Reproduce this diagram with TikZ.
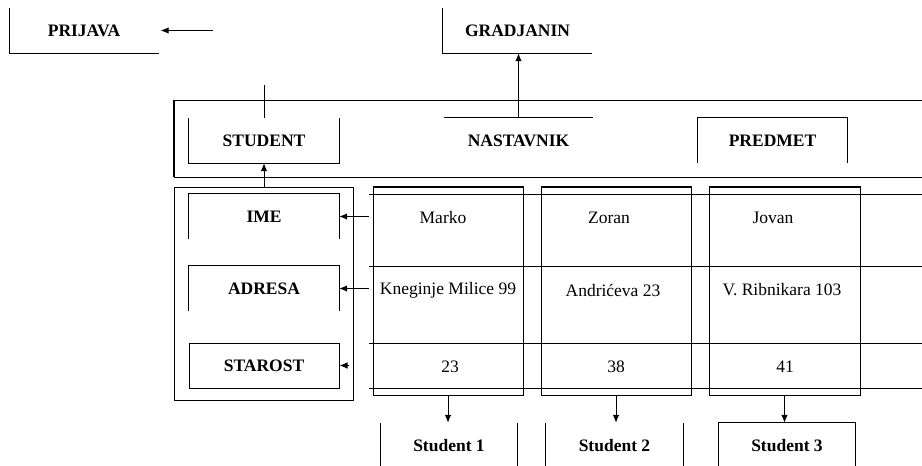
\documentclass[tikz,border=0pt]{standalone}
\usepackage{fontspec}
\setmainfont{Liberation Serif}
\usepackage{tikz}
\usetikzlibrary{calc,positioning,arrows.meta}
\tikzset{
  klasa/.style={rectangle, minimum width=149pt, minimum height=45pt, inner sep=0pt, font=\fontsize{17.5}{20}\selectfont\bfseries},
  polje/.style={rectangle, minimum width=150pt, minimum height=45pt, inner sep=0pt, font=\fontsize{17.5}{20}\selectfont\bfseries},
  stud/.style={rectangle, minimum width=136pt, minimum height=46pt, inner sep=0pt, font=\fontsize{17.5}{20}\selectfont\bfseries},
  kolona/.style={rectangle, draw=black, line width=1pt, minimum width=150pt, minimum height=208pt, inner sep=0pt},
  vrednost/.style={inner sep=0pt, font=\fontsize{17.5}{20}\selectfont},
  linija/.style={draw=black, line width=1pt},
  strel/.style={draw=black, line width=1pt, -{Latex[length=8pt,width=6.5pt]}},
}
\begin{document}
\begin{tikzpicture}[x=1pt,y=-1pt]
  \useasboundingbox (0,0) rectangle (922,466);
  % gornji red
  \node[klasa] (prijava) at (84,30.5) {PRIJAVA};
  \node[klasa] (gradjanin) at (517.5,30.5) {GRADJANIN};
  \draw[linija] (prijava.north west) -- (prijava.south west) -- (prijava.south east);
  \draw[linija] (gradjanin.north west) -- (gradjanin.south west) -- (gradjanin.south east);
  \coordinate (p0) at (213,30.5);
  \draw[strel, shorten >=2pt] (p0) -- (prijava.east);
  % klase
  \draw[linija] (922,100) -- (174,100) -- (174,177) -- (922,177);
  \draw[line width=2pt] (174,100) -- (174,177);
  \node[polje] (student) at (264,140.5) {STUDENT};
  \node[klasa] (nastavnik) at (518.5,140.5) {NASTAVNIK};
  \node[klasa] (predmet) at (772.5,140.5) {PREDMET};
  \draw[linija] (student.north west) -- (student.south west) -- (student.south east) -- (student.north east);
  \draw[linija] (nastavnik.north west) -- (nastavnik.north east);
  \draw[linija] (predmet.south west) -- (predmet.north west) -- (predmet.north east) -- (predmet.south east);
  \coordinate (vrh) at (264,85);
  \draw[linija] (vrh) -- (student.north);
  \draw[strel] (nastavnik.north) -- (nastavnik.north |- gradjanin.south);
  % atributi
  \node[draw=black, line width=1pt, minimum width=179pt, minimum height=213pt, inner sep=0pt] (atributi) at (263.5,293.5) {};
  \node[polje, text depth=-2pt] (ime) at (264,216.5) {IME};
  \node[polje, text depth=-2pt] (adresa) at (264,288.5) {ADRESA};
  \node[polje, draw=black, line width=1pt] (starost) at (264,365.5) {STAROST};
  \draw[linija] (ime.south west) -- (ime.north west) -- (ime.north east) -- (ime.south east);
  \draw[linija] (adresa.south west) -- (adresa.north west) -- (adresa.north east) -- (adresa.south east);
  \draw[strel] (atributi.north -| student.south) -- (student.south);
  % objekti
  \node[kolona] (kol1) at (448,291) {};
  \node[kolona] (kol2) at (616,291) {};
  \node[kolona, minimum width=151pt] (kol3) at (784.5,291) {};
  \foreach \k in {kol1,kol2,kol3}
    \draw[line width=2pt] (\k.north west) -- (\k.north east);
  \foreach \y in {194,266,343,388}
    \draw[linija] (369,\y) -- (922,\y);
  \node[vrednost] (v11) at (443,218) {Marko};
  \node[vrednost] (v12) at (448,290) {Kneginje Milice 99};
  \node[vrednost] (v13) at (450,367) {23};
  \node[vrednost] (v21) at (609,218) {Zoran};
  \node[vrednost] (v22) at (613,290) {Andrićeva 23};
  \node[vrednost] (v23) at (616,367) {38};
  \node[vrednost] (v31) at (773,218) {Jovan};
  \node[vrednost] (v32) at (782,290) {V. Ribnikara 103};
  \node[vrednost] (v33) at (785,367) {41};
  \draw[strel] ([xshift=-4pt]kol1.west |- ime.east) -- (ime.east);
  \draw[strel] ([xshift=-4pt]kol1.west |- adresa.east) -- (adresa.east);
  \draw[strel] ([xshift=9pt]starost.east) -- (starost.east);
  % studenti
  \node[stud] (stud1) at (449,446) {Student 1};
  \node[stud, minimum width=137pt] (stud2) at (614.5,446) {Student 2};
  \node[stud] (stud3) at (787,446) {Student 3};
  \foreach \s in {stud1,stud2} {
    \draw[linija] (\s.north west) -- (\s.south west);
    \draw[linija] (\s.north east) -- (\s.south east);
  }
  \draw[linija] (stud3.south west) -- (stud3.north west) -- (stud3.north east) -- (stud3.south east);
  \draw[strel] (kol1.south) -- (kol1.south |- stud1.north);
  \draw[strel] (kol2.south) -- (kol2.south |- stud2.north);
  \draw[strel] (kol3.south) -- (kol3.south |- stud3.north);
\end{tikzpicture}
\end{document}
